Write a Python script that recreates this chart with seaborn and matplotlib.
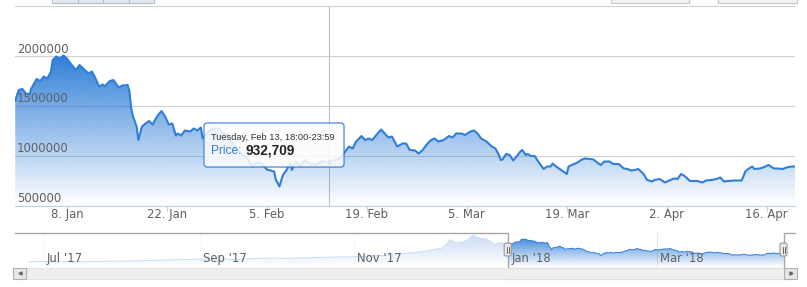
import numpy as np
import pandas as pd
import matplotlib
matplotlib.use("Agg")
import matplotlib.pyplot as plt
import matplotlib.colors as mcolors
from matplotlib.patches import Rectangle, FancyBboxPatch
from matplotlib.transforms import IdentityTransform, blended_transform_factory, offset_copy
from matplotlib.lines import Line2D
import seaborn as sns

# ---------------- data (days since 2018-01-01 00:00, price in JPY) ----------------
main_days = [-0.25, 0.25, 0.75, 1.25, 1.75, 2.0, 2.75, 3.25, 3.75, 4.25, 4.75, 5.0, 5.5, 6.0, 6.5,
             7.0, 7.5, 8.25, 8.75, 9.5, 10.0, 10.5, 11.0, 11.5, 12.0, 12.25, 13.0, 13.5, 14.25,
             14.75, 15.5, 15.75, 16.0, 16.25, 16.75, 17.0, 17.5, 18.0, 18.5, 19.0, 19.25, 19.75,
             20.25, 20.75, 21.25, 21.75, 22.25, 22.5, 23.0, 23.5, 24.25, 24.75, 25.25, 25.75,
             26.0, 26.75, 27.5, 28.25, 28.75, 29.5, 30.25, 31.0, 31.75, 32.25, 33.0, 33.5, 34.25,
             35.0, 36.0, 36.25, 36.75, 37.25, 37.75, 38.25, 38.5, 39.0, 39.75, 40.25, 41.0, 41.75,
             42.75, 43.75, 45.25, 45.75, 46.5, 47.0, 47.5, 48.25, 48.75, 49.25, 49.75, 50.5, 51.0,
             51.5, 52.0, 52.5, 53.25, 54.0, 54.5, 55.0, 55.75, 56.25, 56.75, 57.5, 58.0, 58.5,
             59.0, 59.75, 60.5, 61.0, 61.5, 62.25, 62.75, 63.5, 64.0, 64.5, 65.0, 65.75, 66.5,
             67.0, 67.5, 67.75, 68.0, 68.5, 69.0, 69.5, 70.0, 70.5, 70.75, 71.25, 71.5, 72.0,
             72.5, 73.0, 73.75, 74.25, 74.75, 75.0, 75.5, 76.0, 76.5, 77.0, 77.25, 78.0, 78.5,
             79.0, 79.5, 80.25, 80.75, 81.25, 81.75, 82.25, 83.0, 83.5, 84.25, 85.0, 85.5, 86.0,
             86.5, 87.0, 87.75, 88.25, 89.0, 89.25, 90.0, 90.75, 91.5, 92.0, 92.5, 93.0, 93.5,
             94.25, 95.25, 96.0, 96.5, 97.25, 98.0, 98.5, 99.0, 99.5, 100.5, 101.5, 102.0, 102.5,
             103.0, 103.25, 104.0, 104.5, 105.25, 106.0, 106.5, 107.25, 107.75, 108.5, 109.0]
main_price = [1550000, 1655000, 1665000, 1620000, 1610000, 1670000, 1765000, 1745000, 1790000,
              1770000, 1840000, 1955000, 1990000, 1970000, 2000000, 1970000, 1920000, 1855000,
              1905000, 1855000, 1820000, 1840000, 1770000, 1690000, 1710000, 1690000, 1745000,
              1755000, 1680000, 1700000, 1705000, 1640000, 1470000, 1390000, 1290000, 1155000,
              1290000, 1320000, 1345000, 1310000, 1345000, 1405000, 1445000, 1390000, 1310000,
              1320000, 1200000, 1220000, 1200000, 1250000, 1240000, 1270000, 1250000, 1280000,
              1170000, 1240000, 1270000, 1270000, 1230000, 1200000, 1120000, 1050000, 1000000,
              970000, 890000, 930000, 920000, 860000, 840000, 760000, 690000, 805000, 855000,
              920000, 855000, 940000, 890000, 955000, 920000, 905000, 945000, 932709, 970000,
              1020000, 1090000, 1070000, 1140000, 1195000, 1155000, 1170000, 1155000, 1220000,
              1260000, 1220000, 1180000, 1190000, 1090000, 1120000, 1120000, 1055000, 1050000,
              1020000, 1050000, 1120000, 1155000, 1170000, 1140000, 1155000, 1195000, 1180000,
              1220000, 1220000, 1205000, 1240000, 1250000, 1220000, 1170000, 1140000, 1090000,
              1070000, 1005000, 955000, 960000, 1015000, 1005000, 950000, 995000, 1040000,
              1055000, 1005000, 1015000, 995000, 995000, 940000, 865000, 890000, 890000, 920000,
              890000, 865000, 840000, 815000, 890000, 915000, 930000, 955000, 970000, 965000,
              960000, 930000, 905000, 940000, 940000, 915000, 915000, 870000, 865000, 850000,
              855000, 865000, 815000, 755000, 740000, 755000, 765000, 730000, 755000, 770000,
              765000, 815000, 795000, 745000, 745000, 730000, 750000, 755000, 765000, 780000,
              740000, 745000, 750000, 750000, 840000, 870000, 890000, 865000, 870000, 880000,
              905000, 870000, 870000, 865000, 880000, 890000, 890000]

# earlier history shown only in the navigator
hist_days = [-190, -182, -175, -168, -160, -150, -140, -130, -122, -115, -108, -104, -95, -88,
             -80, -70, -60, -50, -42, -37.5, -33, -29.5, -26, -24.5, -23, -21.5, -20.4, -17.8,
             -16, -14.6, -13.8, -12.5, -11.2, -9, -7.2, -5.4, -4, -2.8, -1.5]
hist_price = [220000, 240000, 210000, 230000, 250000, 270000, 330000, 380000, 420000, 440000,
              380000, 450000, 500000, 480000, 530000, 580000, 620000, 700000, 880000, 930000,
              1050000, 1170000, 1300000, 1580000, 1950000, 1750000, 1700000, 1760000, 1950000,
              2200000, 2290000, 2150000, 2050000, 1980000, 1850000, 1550000, 1660000, 1720000,
              1650000]

x_tick_days = [7, 21, 35, 49, 63, 77, 91, 105]
x_tick_labels = ["8. Jan", "22. Jan", "5. Feb", "19. Feb", "5. Mar", "19. Mar", "2. Apr", "16. Apr"]
y_grid = [500000, 1000000, 1500000, 2000000, 2500000]
y_labels = [500000, 1000000, 1500000, 2000000]
nav_tick_days = [-184, -122, -61, 0, 59]
nav_tick_labels = ["Jul '17", "Sep '17", "Nov '17", "Jan '18", "Mar '18"]
view_range = (-0.28, 108.96)
nav_range = (-195.4, 113.5)
tooltip_day = 43.75
tooltip_header = "Tuesday, Feb 13, 18:00-23:59"
series_name = "Price"

BLUE = "#2f7ed8"
W, H = 807, 287

plt.rcParams['font.family'] = ['DejaVu Sans']
fig = plt.figure(figsize=(W / 100, H / 100), dpi=100)
fig.patch.set_facecolor("white")


def ax_px(x0, y0, x1, y1):
    return fig.add_axes([x0 / W, 1 - y1 / H, (x1 - x0) / W, (y1 - y0) / H])


def gradient_area(ax, x, y, base, z=1):
    x = np.asarray(x, float)
    y = np.asarray(y, float)
    poly = ax.fill_between(x, y, base, color="none", lw=0)
    n = 256
    grad = np.zeros((n, 1, 4))
    grad[..., :3] = mcolors.to_rgb(BLUE)
    grad[:, 0, 3] = np.linspace(0, 1, n)
    im = ax.imshow(grad, extent=[x.min(), x.max(), base, y.max()], origin="lower",
                   aspect="auto", zorder=z, interpolation="bilinear")
    im.set_clip_path(poly.get_paths()[0], transform=ax.transData)


def px_patch(x0, y0, x1, y1, **kw):
    p = Rectangle((x0, H - y1), x1 - x0, y1 - y0, transform=IdentityTransform(), **kw)
    fig.add_artist(p)
    return p


# ---------------- main chart ----------------
df = pd.DataFrame({"day": main_days, "price": main_price})
ax = ax_px(15, 5.5, 795, 205.5)
ax.set_facecolor("none")
ymin, ymax = 500000, 2500000
gradient_area(ax, df["day"], df["price"], ymin, z=2)
sns.lineplot(data=df, x="day", y="price", ax=ax, color=BLUE, lw=1.5, zorder=3)
ax.set_xlim(*view_range)
ax.set_ylim(ymin, ymax)
ax.set_xlabel("")
ax.set_ylabel("")
for s in ["left", "right", "top"]:
    ax.spines[s].set_visible(False)
ax.spines["bottom"].set_color("#C0D0E0")
ax.spines["bottom"].set_zorder(4)
ax.set_yticks(y_grid)
ax.tick_params(axis="y", length=0, labelleft=False)
ax.yaxis.grid(True, color="#d0d0d0", lw=0.8)
ax.set_axisbelow(True)
ax.set_xticks(x_tick_days)
ax.set_xticklabels(x_tick_labels)
ax.tick_params(axis="x", length=3.6, width=0.8, color="#C0D0E0", labelcolor="#606060",
               labelsize=8.4, pad=-1.5)
ytr = offset_copy(blended_transform_factory(ax.transAxes, ax.transData), fig=fig, x=2, y=3, units="dots")
for v in y_labels:
    ax.text(0, v, str(v), transform=ytr, ha="left", va="baseline", fontsize=8.4,
            color="#606060", zorder=5)

# crosshair + hover marker
ax.axvline(tooltip_day, color="#C0C0C0", lw=0.8, zorder=1)
tip_val = main_price[main_days.index(tooltip_day)]
ax.plot([tooltip_day], [tip_val], "o", ms=5, color=BLUE, mec="white", mew=0.8, zorder=4)

# tooltip
shadow = FancyBboxPatch((205, H - 168), 140, 44, boxstyle="round,pad=0,rounding_size=3",
                        transform=IdentityTransform(), fc="black", ec="none", alpha=0.07, zorder=9)
fig.add_artist(shadow)
tip = FancyBboxPatch((204, H - 167), 140, 44, boxstyle="round,pad=0,rounding_size=3",
                     transform=IdentityTransform(), fc=(1, 1, 1, 0.85), ec=BLUE, lw=0.8, zorder=10)
fig.add_artist(tip)
fig.text(211 / W, 1 - 140.5 / H, tooltip_header, fontsize=6.7, color="#333333", ha="left",
         va="baseline", family=["Liberation Sans", "DejaVu Sans"], zorder=11)
fig.text(211 / W, 1 - 154.5 / H, series_name + ":", fontsize=8.6, color=BLUE, ha="left",
         va="baseline", family=["Liberation Sans", "DejaVu Sans"], zorder=11)
fig.text(246 / W, 1 - 154.5 / H, f"{tip_val:,}", fontsize=9.8, color="#222222", ha="left",
         va="baseline", fontweight="bold", family=["Liberation Sans", "DejaVu Sans"], zorder=11)

# ---------------- navigator ----------------
nav_df = pd.DataFrame({"day": hist_days + main_days, "price": hist_price + main_price})
nav = ax_px(15, 233, 795, 267)
nav.set_facecolor("none")
nmin, nmax = -196000, 2470000
nav.set_xticks(nav_tick_days)
nav.xaxis.grid(True, color="#e6e6e6", lw=0.8)
nav.set_axisbelow(True)
gradient_area(nav, nav_df["day"], nav_df["price"], nmin, z=2)
sns.lineplot(data=nav_df, x="day", y="price", ax=nav, color=BLUE, lw=0.7, zorder=3)
nav.set_xlim(*nav_range)
nav.set_ylim(nmin, nmax)
nav.set_xlabel("")
nav.set_ylabel("")
nav.set_yticks([])
nav.tick_params(axis="x", length=0, labelbottom=False)
for s in nav.spines.values():
    s.set_visible(False)
ntr = offset_copy(blended_transform_factory(nav.transData, nav.transAxes), fig=fig, x=3, y=0, units="dots")
for d, lab in zip(nav_tick_days, nav_tick_labels):
    nav.text(d, 0.26, lab, transform=ntr, ha="left", va="center", fontsize=8.4,
             color="#606060", zorder=6)
# white masks outside selection
btr = blended_transform_factory(nav.transData, nav.transAxes)
sel_l, sel_r = view_range
nav.add_patch(Rectangle((nav_range[0], 0), sel_l - nav_range[0], 1, transform=btr,
                        fc="white", alpha=0.75, ec="none", zorder=5))
nav.add_patch(Rectangle((sel_r, 0), nav_range[1] - sel_r, 1, transform=btr,
                        fc="white", alpha=0.75, ec="none", zorder=5))

# scrollbar (pixel layout)
px_patch(13, 267.5, 797, 279, fc="#eeeeee", ec="#e0e0e0", lw=0.6, zorder=6)
thumb = Rectangle((sel_l, -12 / 34), sel_r - sel_l, 11.5 / 34, transform=btr, fc="#e3e3e3",
                  ec="#b0b0b0", lw=0.8, clip_on=False, zorder=7)
nav.add_patch(thumb)
mid = (sel_l + sel_r) / 2
for dx in (-2, 0, 2):
    t = offset_copy(btr, fig=fig, x=dx, y=0, units="dots")
    nav.add_line(Line2D([mid, mid], [-9.5 / 34, -4.5 / 34], transform=t, color="#555555",
                        lw=0.6, clip_on=False, zorder=8))
for (a, b, mk) in [(13, 26, "<"), (784, 797, ">")]:
    px_patch(a, 267.5, b, 279, fc="#e6e6e6", ec="#b0b0b0", lw=0.8, zorder=8)
    fig.add_artist(Line2D([(a + b) / 2], [H - 273.2], marker=mk, ms=2.2, color="#666666",
                          transform=IdentityTransform(), zorder=9))

# outline
oc = "#a8a8a8"
nav.add_line(Line2D([nav_range[0], sel_l, sel_l], [1, 1, -12 / 34], transform=btr, color=oc,
                    lw=1.0, clip_on=False, zorder=8))
nav.add_line(Line2D([sel_r, sel_r, nav_range[1]], [-12 / 34, 1, 1], transform=btr, color=oc,
                    lw=1.0, clip_on=False, zorder=8))
# handles
for d in (sel_l, sel_r):
    x_disp, _ = btr.transform((d, 0))
    yb = H - 256
    fig.add_artist(FancyBboxPatch((x_disp - 3.5, yb), 7, 13, boxstyle="round,pad=0,rounding_size=2",
                                  transform=IdentityTransform(), fc="#ebe7e8", ec="#999999",
                                  lw=0.8, zorder=12))
    for dx in (-1, 1):
        fig.add_artist(Line2D([x_disp + dx, x_disp + dx], [yb + 3.5, yb + 9.5],
                              transform=IdentityTransform(), color="#555555", lw=0.6, zorder=13))

# range-selector buttons and inputs (cut off at the top)
px_patch(52, -5, 154, 3, fc="#e4e9f1", ec="#b8bec8", lw=0.8, zorder=6)
for xd in (78, 103, 129):
    fig.add_artist(Line2D([xd, xd], [H - 3, H], transform=IdentityTransform(), color="#b8bec8",
                          lw=0.8, zorder=7))
px_patch(611, -5, 689, 2.5, fc="#f2f2f2", ec="#c8c8c8", lw=0.8, zorder=6)
px_patch(718, -5, 797, 2.5, fc="#f2f2f2", ec="#c8c8c8", lw=0.8, zorder=6)

fig.savefig("out.png", dpi=100)
